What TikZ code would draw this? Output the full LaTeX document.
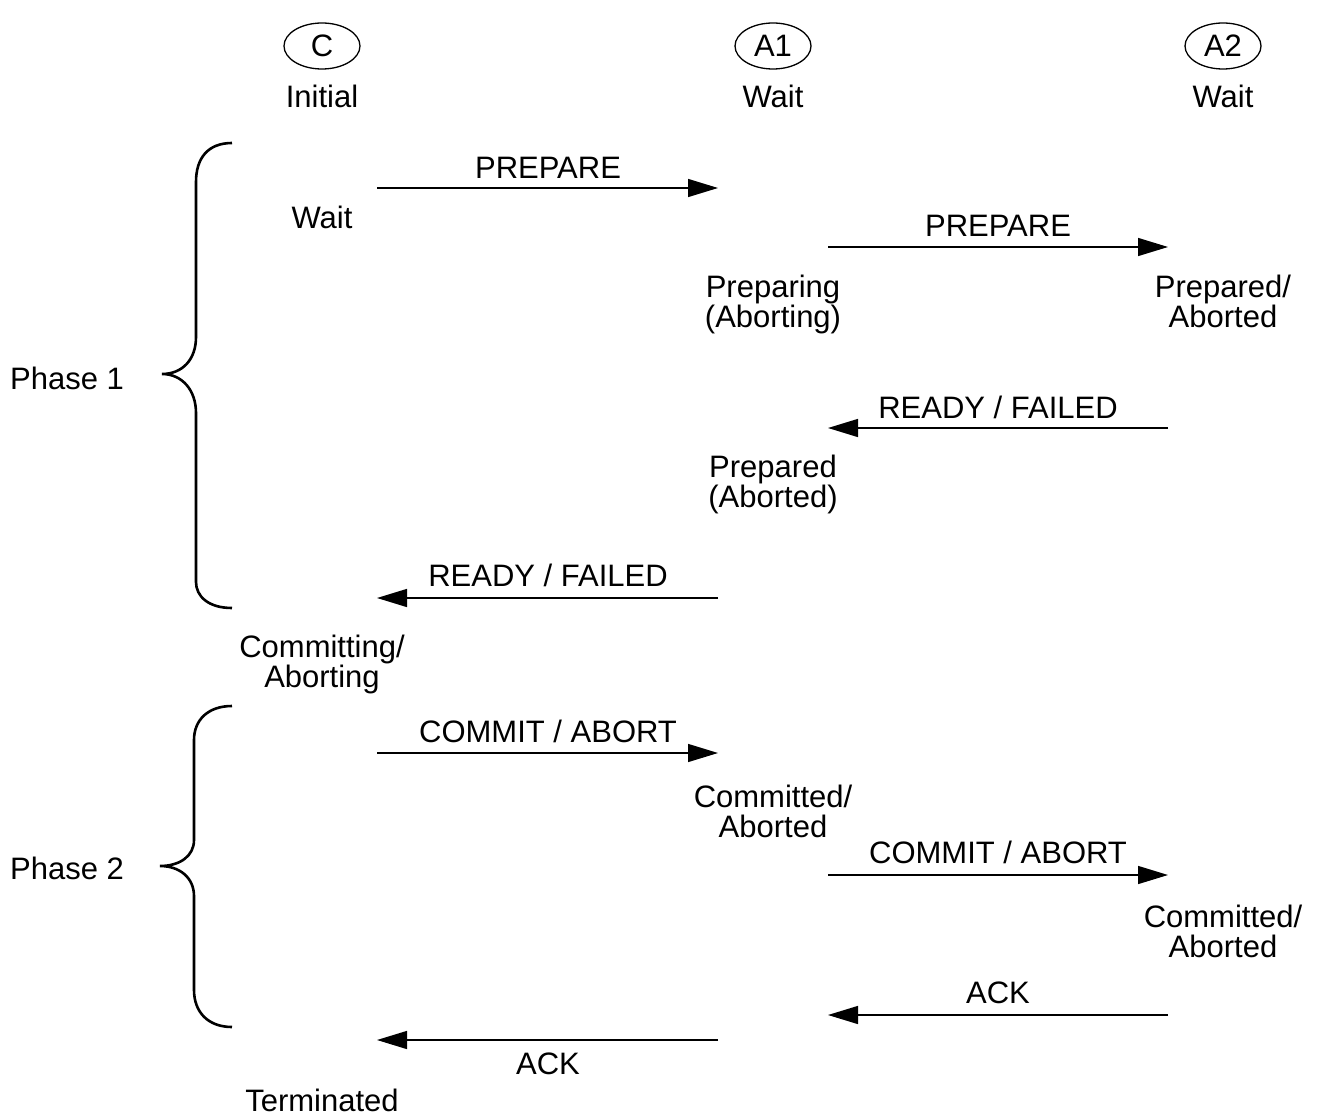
\documentclass[tikz,border=0pt]{standalone}
\usepackage{fontspec}
\setmainfont{Liberation Sans}
\usetikzlibrary{arrows.meta,shapes.geometric}
\begin{document}
\begin{tikzpicture}[x=1pt,y=-1pt,
  every node/.style={inner sep=0pt, font=\fontsize{31}{30}\selectfont},
  lbl/.style={anchor=base, align=center},
  party/.style={ellipse, draw, line width=1.3pt, minimum width=76pt, minimum height=46pt},
  msg/.style={line width=1.4pt, -{Triangle[length=30pt,width=18pt]}},
  brace/.style={line width=2.6pt}]
\useasboundingbox (0,0) rectangle (1319,1115);

% participants
\node[party] (C)  at (322,46)  {C};
\node[party] (A1) at (773,46)  {A1};
\node[party] (A2) at (1223,46) {A2};
\node[lbl] (sC0)  at (322,108)  {Initial};
\node[lbl] (sA10) at (773,108)  {Wait};
\node[lbl] (sA20) at (1223,108) {Wait};

% message end points
\coordinate (p1s) at (377,188);  \coordinate (p1e) at (718,188);
\coordinate (p2s) at (828,247);  \coordinate (p2e) at (1168,247);
\coordinate (r2s) at (1168,428); \coordinate (r2e) at (828,428);
\coordinate (r1s) at (718,598);  \coordinate (r1e) at (377,598);
\coordinate (c1s) at (377,753);  \coordinate (c1e) at (718,753);
\coordinate (c2s) at (828,875);  \coordinate (c2e) at (1168,875);
\coordinate (k2s) at (1168,1015);\coordinate (k2e) at (828,1015);
\coordinate (k1s) at (718,1040); \coordinate (k1e) at (377,1040);

% phase 1 (two-line states are placed by the baseline of their last line)
\draw[msg] (p1s) -- (p1e);
\node[lbl] (m1) at (548,179) {PREPARE};
\node[lbl] (sC1) at (322,229) {Wait};
\draw[msg] (p2s) -- (p2e);
\node[lbl] (m2) at (998,237) {PREPARE};
\node[lbl] (sA11) at (773,327) {Preparing\\(Aborting)};
\node[lbl] (sA21) at (1223,327) {Prepared/\\Aborted};
\draw[msg] (r2s) -- (r2e);
\node[lbl] (m3) at (998,418) {READY / FAILED};
\node[lbl] (sA12) at (773,507) {Prepared\\(Aborted)};
\draw[msg] (r1s) -- (r1e);
\node[lbl] (m4) at (548,586) {READY / FAILED};
\node[lbl] (sC2) at (322,687) {Committing/\\Aborting};

% phase 2
\draw[msg] (c1s) -- (c1e);
\node[lbl] (m5) at (548,742) {COMMIT / ABORT};
\node[lbl] (sA13) at (773,837) {Committed/\\Aborted};
\draw[msg] (c2s) -- (c2e);
\node[lbl] (m6) at (998,863) {COMMIT / ABORT};
\node[lbl] (sA22) at (1223,957) {Committed/\\Aborted};
\draw[msg] (k2s) -- (k2e);
\node[lbl] (m7) at (998,1003) {ACK};
\draw[msg] (k1s) -- (k1e);
\node[lbl] (m8) at (548,1074) {ACK};
\node[lbl] (sC3) at (322,1111) {Terminated};

% phase braces
\draw[brace] (232,143) .. controls (208,143) and (196,158) .. (196,182) -- (196,337)
  .. controls (196,360) and (182,374) .. (162,374)
  .. controls (182,374) and (196,390) .. (196,413) -- (196,582)
  .. controls (196,596) and (208,608) .. (232,608);
\node[lbl] (ph1) at (67,389) {Phase 1};
\draw[brace] (232,706) .. controls (208,706) and (194,720) .. (194,740) -- (194,840)
  .. controls (194,856) and (180,866) .. (160,866)
  .. controls (180,866) and (194,878) .. (194,896) -- (194,990)
  .. controls (194,1012) and (208,1027) .. (232,1027);
\node[lbl] (ph2) at (67,879) {Phase 2};
\end{tikzpicture}
\end{document}
